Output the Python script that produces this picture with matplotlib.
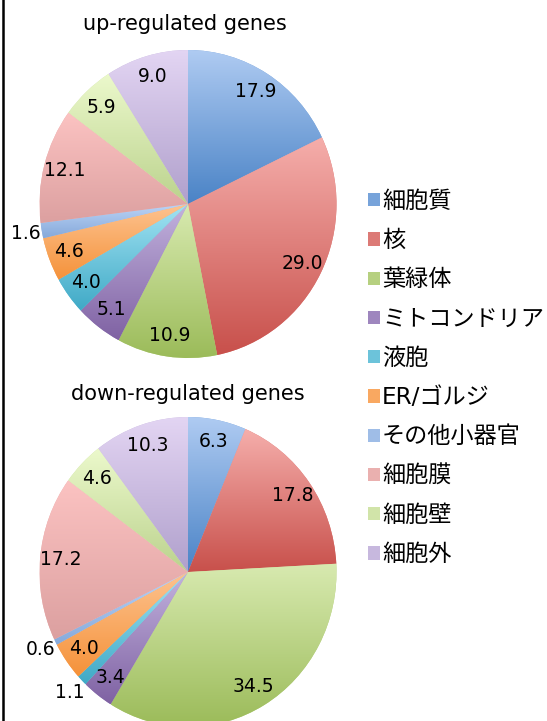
import numpy as np
import matplotlib.pyplot as plt
from matplotlib.patches import Patch
from matplotlib.lines import Line2D
from matplotlib.colors import to_rgb

plt.rcParams['font.family'] = ['DejaVu Sans', 'Noto Sans CJK JP']

categories = ['細胞質', '核', '葉緑体', 'ミトコンドリア', '液胞', 'ER/ゴルジ',
              'その他小器官', '細胞膜', '細胞壁', '細胞外']
up_values = [17.9, 29.0, 10.9, 5.1, 4.0, 4.6, 1.6, 12.1, 5.9, 9.0]
down_values = [6.3, 17.8, 34.5, 3.4, 1.1, 4.0, 0.6, 17.2, 4.6, 10.3]

# excel style gradient: light at top of slice, dark at bottom
top_colors = ['#AFCBF2', '#F5AEAB', '#D8EAB0', '#C3B3DE', '#A2E3F3', '#FDC390',
              '#BDD5F7', '#FCC3C2', '#ECF9CC', '#E3D5F3']
bottom_colors = ['#4A83C6', '#C8504B', '#9BBB59', '#7F62A3', '#3FA9C6', '#F5923A',
                 '#86A9DA', '#DCA0A0', '#BBD28D', '#B0A0CC']


def mix(c1, c2, t):
    a, b = np.array(to_rgb(c1)), np.array(to_rgb(c2))
    return tuple(a * (1 - t) + b * t)


mid_colors = [mix(t, b, 0.55) for t, b in zip(top_colors, bottom_colors)]

fig = plt.figure(figsize=(5.47, 7.21), dpi=100)
W, H = 547, 721


def draw_pie(rect, values):
    ax = fig.add_axes(rect)
    wedges, _ = ax.pie(values, startangle=90, counterclock=False, colors=mid_colors,
                       wedgeprops=dict(linewidth=0))
    t = np.linspace(0, 1, 200)[:, None, None]
    for w, c_top, c_bot in zip(wedges, top_colors, bottom_colors):
        verts = w.get_path().vertices
        x0, y0 = verts.min(axis=0)
        x1, y1 = verts.max(axis=0)
        img = np.array(to_rgb(c_top))[None, None, :] * (1 - t) + np.array(to_rgb(c_bot))[None, None, :] * t
        im = ax.imshow(img, extent=[x0, x1, y0, y1], origin='upper', aspect='auto',
                       interpolation='bilinear', zorder=2)
        im.set_clip_path(w)
    total = sum(values)
    start = 90.0
    for v in values:
        ang = np.deg2rad(start - v / total * 180.0)
        r = 1.11 if v < 2 else 0.86
        ax.text(r * np.cos(ang), r * np.sin(ang), f'{v:.1f}', ha='center', va='center',
                fontsize=13.5, zorder=5)
        start -= v / total * 360.0
    ax.set_aspect('auto')
    ax.set_xlim(-1, 1)
    ax.set_ylim(-1, 1)
    ax.axis('off')
    return ax


draw_pie([39.5 / W, (H - 358) / H, 297 / W, 308 / H], up_values)
draw_pie([39.5 / W, (H - 727) / H, 297 / W, 310 / H], down_values)

fig.text(185 / W, 1 - 24 / H, 'up-regulated genes', ha='center', va='center', fontsize=15)
fig.text(188 / W, 1 - 394 / H, 'down-regulated genes', ha='center', va='center', fontsize=15)

handles = [Patch(facecolor=c, edgecolor='none') for c in mid_colors]
fig.legend(handles, categories, loc='upper left', bbox_to_anchor=(368 / W, 1 - 190 / H),
           frameon=False, fontsize=16.7, handlelength=0.5, handleheight=0.5,
           handletextpad=0.1, labelspacing=0.7, borderpad=0, borderaxespad=0)

fig.add_artist(Line2D([2.5 / W, 2.5 / W], [0, 1], transform=fig.transFigure,
                      color='black', lw=1.8))

plt.savefig('out.png', dpi=100)
